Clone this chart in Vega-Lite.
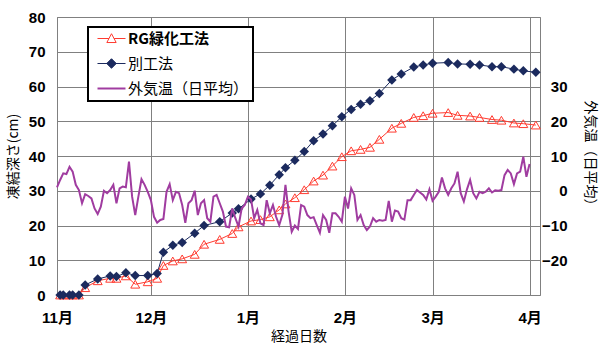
{
  "$schema": "https://vega.github.io/schema/vega-lite/v6.json",
  "width": 483,
  "height": 278,
  "autosize": {"type": "none"},
  "padding": {"left": 57, "top": 17, "right": 60, "bottom": 64},
  "background": "white",
  "config": {
    "font": "Liberation Sans, Noto Sans CJK JP",
    "view": {"stroke": "#808080", "strokeWidth": 1},
    "axis": {
      "gridColor": "#808080", "gridOpacity": 1, "gridWidth": 1,
      "domain": false, "ticks": false,
      "labelColor": "black", "titleColor": "black",
      "labelFont": "Liberation Sans, Noto Sans CJK JP",
      "titleFont": "Noto Sans CJK JP",
      "labelFontWeight": "bold", "labelFontSize": 15,
      "titleFontSize": 14, "titleFontWeight": "normal"
    }
  },
  "datasets": {
    "depth": [
      {"date": "2010-11-02", "RG": 0, "betsu": 0},
      {"date": "2010-11-03", "RG": 0, "betsu": 0},
      {"date": "2010-11-05", "RG": 0, "betsu": 0},
      {"date": "2010-11-06", "RG": 0, "betsu": 0},
      {"date": "2010-11-08", "RG": 0, "betsu": 0},
      {"date": "2010-11-10", "RG": 2.1, "betsu": 2.9},
      {"date": "2010-11-14", "RG": 4.1, "betsu": 4.6},
      {"date": "2010-11-18", "RG": 4.8, "betsu": 5.5},
      {"date": "2010-11-20", "RG": 4.8, "betsu": 5.3},
      {"date": "2010-11-23", "RG": 5.5, "betsu": 6.4},
      {"date": "2010-11-26", "RG": 3.1, "betsu": 5.6},
      {"date": "2010-11-30", "RG": 3.8, "betsu": 5.6},
      {"date": "2010-12-03", "RG": 4.8, "betsu": 6.2},
      {"date": "2010-12-05", "RG": 8.5, "betsu": 12.3},
      {"date": "2010-12-08", "RG": 9.8, "betsu": 14.3},
      {"date": "2010-12-11", "RG": 10.4, "betsu": 15.1},
      {"date": "2010-12-15", "RG": 11.7, "betsu": 17.8},
      {"date": "2010-12-18", "RG": 14.6, "betsu": 20.0},
      {"date": "2010-12-23", "RG": 16.0, "betsu": 21.1},
      {"date": "2010-12-27", "RG": 17.7, "betsu": 23.6},
      {"date": "2010-12-29", "RG": 19.6, "betsu": 24.8},
      {"date": "2011-01-02", "RG": 21.3, "betsu": 27.6},
      {"date": "2011-01-05", "RG": 21.7, "betsu": 29.1},
      {"date": "2011-01-08", "RG": 22.5, "betsu": 31.6},
      {"date": "2011-01-11", "RG": 24.5, "betsu": 34.6},
      {"date": "2011-01-13", "RG": 26.2, "betsu": 36.6},
      {"date": "2011-01-16", "RG": 28.0, "betsu": 38.8},
      {"date": "2011-01-19", "RG": 30.3, "betsu": 41.3},
      {"date": "2011-01-22", "RG": 32.8, "betsu": 44.4},
      {"date": "2011-01-25", "RG": 34.5, "betsu": 46.3},
      {"date": "2011-01-28", "RG": 37.1, "betsu": 48.7},
      {"date": "2011-01-31", "RG": 39.8, "betsu": 51.3},
      {"date": "2011-02-03", "RG": 41.5, "betsu": 53.4},
      {"date": "2011-02-06", "RG": 41.9, "betsu": 54.9},
      {"date": "2011-02-09", "RG": 42.5, "betsu": 55.9},
      {"date": "2011-02-12", "RG": 44.8, "betsu": 58.0},
      {"date": "2011-02-16", "RG": 48.0, "betsu": 61.9},
      {"date": "2011-02-19", "RG": 49.4, "betsu": 63.6},
      {"date": "2011-02-23", "RG": 51.1, "betsu": 65.6},
      {"date": "2011-02-26", "RG": 51.6, "betsu": 66.2},
      {"date": "2011-03-01", "RG": 52.3, "betsu": 66.7},
      {"date": "2011-03-06", "RG": 52.5, "betsu": 66.9},
      {"date": "2011-03-09", "RG": 51.7, "betsu": 66.5},
      {"date": "2011-03-13", "RG": 51.5, "betsu": 66.4},
      {"date": "2011-03-16", "RG": 51.1, "betsu": 66.2},
      {"date": "2011-03-20", "RG": 50.5, "betsu": 65.7},
      {"date": "2011-03-23", "RG": 50.3, "betsu": 65.7},
      {"date": "2011-03-27", "RG": 49.5, "betsu": 65.0},
      {"date": "2011-03-30", "RG": 49.3, "betsu": 64.5},
      {"date": "2011-04-03", "RG": 48.9, "betsu": 64.1}
    ],
    "temp": [
      {"date": "2010-11-01", "temp": 1.0}, {"date": "2010-11-02", "temp": 3.1}, {"date": "2010-11-03", "temp": 5.0}, {"date": "2010-11-04", "temp": 4.8}, {"date": "2010-11-05", "temp": 6.9},
      {"date": "2010-11-06", "temp": 5.5}, {"date": "2010-11-07", "temp": 1.7}, {"date": "2010-11-08", "temp": 0.2}, {"date": "2010-11-09", "temp": -3.6}, {"date": "2010-11-10", "temp": -1.0},
      {"date": "2010-11-11", "temp": -1.5}, {"date": "2010-11-12", "temp": -2.2}, {"date": "2010-11-13", "temp": -5.1}, {"date": "2010-11-14", "temp": -6.7}, {"date": "2010-11-15", "temp": -4.6},
      {"date": "2010-11-16", "temp": 0.0}, {"date": "2010-11-17", "temp": -0.7}, {"date": "2010-11-18", "temp": 0.2}, {"date": "2010-11-19", "temp": 1.7}, {"date": "2010-11-20", "temp": -3.6},
      {"date": "2010-11-21", "temp": 0.7}, {"date": "2010-11-22", "temp": 1.2}, {"date": "2010-11-23", "temp": 1.0}, {"date": "2010-11-24", "temp": 8.4}, {"date": "2010-11-25", "temp": -1.7},
      {"date": "2010-11-26", "temp": -7.0}, {"date": "2010-11-27", "temp": -1.7}, {"date": "2010-11-28", "temp": 3.3}, {"date": "2010-11-29", "temp": 1.7}, {"date": "2010-11-30", "temp": -0.3},
      {"date": "2010-12-01", "temp": -2.7}, {"date": "2010-12-02", "temp": -7.5}, {"date": "2010-12-03", "temp": -9.2}, {"date": "2010-12-04", "temp": -8.4}, {"date": "2010-12-05", "temp": -8.1},
      {"date": "2010-12-06", "temp": -0.3}, {"date": "2010-12-07", "temp": 1.9}, {"date": "2010-12-08", "temp": -2.7}, {"date": "2010-12-09", "temp": -0.3}, {"date": "2010-12-10", "temp": -0.7},
      {"date": "2010-12-11", "temp": -4.1}, {"date": "2010-12-12", "temp": -9.2}, {"date": "2010-12-13", "temp": -3.6}, {"date": "2010-12-14", "temp": -2.7}, {"date": "2010-12-15", "temp": 0.0},
      {"date": "2010-12-16", "temp": -7.0}, {"date": "2010-12-17", "temp": -3.6}, {"date": "2010-12-18", "temp": -2.7}, {"date": "2010-12-19", "temp": -7.9}, {"date": "2010-12-20", "temp": -8.9},
      {"date": "2010-12-21", "temp": -1.7}, {"date": "2010-12-22", "temp": -1.2}, {"date": "2010-12-23", "temp": -3.6}, {"date": "2010-12-24", "temp": -6.0}, {"date": "2010-12-25", "temp": -10.3},
      {"date": "2010-12-26", "temp": -10.5}, {"date": "2010-12-27", "temp": -5.1}, {"date": "2010-12-28", "temp": -7.9}, {"date": "2010-12-29", "temp": -10.3}, {"date": "2010-12-30", "temp": -5.1},
      {"date": "2010-12-31", "temp": -4.1},
      {"date": "2011-01-01", "temp": -1.7}, {"date": "2011-01-02", "temp": -2.5}, {"date": "2011-01-03", "temp": -7.9}, {"date": "2011-01-04", "temp": -5.5}, {"date": "2011-01-05", "temp": -9.4},
      {"date": "2011-01-06", "temp": -9.9}, {"date": "2011-01-07", "temp": -2.7}, {"date": "2011-01-08", "temp": -6.5}, {"date": "2011-01-09", "temp": -4.1}, {"date": "2011-01-10", "temp": -7.5},
      {"date": "2011-01-11", "temp": -9.9}, {"date": "2011-01-12", "temp": -7.0}, {"date": "2011-01-13", "temp": 1.7}, {"date": "2011-01-14", "temp": -6.0}, {"date": "2011-01-15", "temp": -11.8},
      {"date": "2011-01-16", "temp": -10.0}, {"date": "2011-01-17", "temp": -11.0}, {"date": "2011-01-18", "temp": -4.1}, {"date": "2011-01-19", "temp": -4.6}, {"date": "2011-01-20", "temp": -7.0},
      {"date": "2011-01-21", "temp": -7.9}, {"date": "2011-01-22", "temp": -7.6}, {"date": "2011-01-23", "temp": -9.9}, {"date": "2011-01-24", "temp": -12.1}, {"date": "2011-01-25", "temp": -7.0},
      {"date": "2011-01-26", "temp": -8.4}, {"date": "2011-01-27", "temp": -12.1}, {"date": "2011-01-28", "temp": -6.5}, {"date": "2011-01-29", "temp": -6.5}, {"date": "2011-01-30", "temp": -7.5},
      {"date": "2011-01-31", "temp": -8.9},
      {"date": "2011-02-01", "temp": -1.7}, {"date": "2011-02-02", "temp": -5.1}, {"date": "2011-02-03", "temp": 0.7}, {"date": "2011-02-04", "temp": -1.2}, {"date": "2011-02-05", "temp": -8.4},
      {"date": "2011-02-06", "temp": -7.0}, {"date": "2011-02-07", "temp": -9.9}, {"date": "2011-02-08", "temp": -11.3}, {"date": "2011-02-09", "temp": -10.3}, {"date": "2011-02-10", "temp": -7.9},
      {"date": "2011-02-11", "temp": -8.9}, {"date": "2011-02-12", "temp": -8.4}, {"date": "2011-02-13", "temp": -8.6}, {"date": "2011-02-14", "temp": -8.4}, {"date": "2011-02-15", "temp": -2.9},
      {"date": "2011-02-16", "temp": -8.9}, {"date": "2011-02-17", "temp": -5.7}, {"date": "2011-02-18", "temp": -6.0}, {"date": "2011-02-19", "temp": -7.9}, {"date": "2011-02-20", "temp": -8.3},
      {"date": "2011-02-21", "temp": -2.7}, {"date": "2011-02-22", "temp": -2.7}, {"date": "2011-02-23", "temp": -1.2}, {"date": "2011-02-24", "temp": 0.2}, {"date": "2011-02-25", "temp": -0.5},
      {"date": "2011-02-26", "temp": -1.2}, {"date": "2011-02-27", "temp": -2.5}, {"date": "2011-02-28", "temp": 0.4},
      {"date": "2011-03-01", "temp": -2.9}, {"date": "2011-03-02", "temp": -1.7}, {"date": "2011-03-03", "temp": -0.3}, {"date": "2011-03-04", "temp": 3.8}, {"date": "2011-03-05", "temp": 0.7},
      {"date": "2011-03-06", "temp": -1.2}, {"date": "2011-03-07", "temp": 0.7}, {"date": "2011-03-08", "temp": 2.1}, {"date": "2011-03-09", "temp": 5.5}, {"date": "2011-03-10", "temp": -0.7},
      {"date": "2011-03-11", "temp": -3.1}, {"date": "2011-03-12", "temp": 0.4}, {"date": "2011-03-13", "temp": 3.1}, {"date": "2011-03-14", "temp": -0.7}, {"date": "2011-03-15", "temp": -2.2},
      {"date": "2011-03-16", "temp": -0.3}, {"date": "2011-03-17", "temp": -0.7}, {"date": "2011-03-18", "temp": -0.3}, {"date": "2011-03-19", "temp": 0.7}, {"date": "2011-03-20", "temp": -0.5},
      {"date": "2011-03-21", "temp": 0.1}, {"date": "2011-03-22", "temp": 0.0}, {"date": "2011-03-23", "temp": 0.2}, {"date": "2011-03-24", "temp": 4.5}, {"date": "2011-03-25", "temp": 6.0},
      {"date": "2011-03-26", "temp": 5.0}, {"date": "2011-03-27", "temp": 1.9}, {"date": "2011-03-28", "temp": 5.0}, {"date": "2011-03-29", "temp": 5.5}, {"date": "2011-03-30", "temp": 9.8},
      {"date": "2011-03-31", "temp": 4.0},
      {"date": "2011-04-01", "temp": 7.7}
    ]
  },
  "encoding": {
    "x": {
      "field": "date", "type": "temporal", "title": "経過日数",
      "scale": {"type": "utc", "domain": [{"year": 2010, "month": 11, "date": 1, "utc": true}, {"year": 2011, "month": 4, "date": 4, "hours": 8, "utc": true}]},
      "axis": {
        "values": [
          {"year": 2010, "month": 11, "date": 1, "utc": true},
          {"year": 2010, "month": 12, "date": 1, "utc": true},
          {"year": 2011, "month": 1, "date": 1, "utc": true},
          {"year": 2011, "month": 2, "date": 1, "utc": true},
          {"year": 2011, "month": 3, "date": 1, "utc": true},
          {"year": 2011, "month": 4, "date": 1, "utc": true}
        ],
        "labelExpr": "utcFormat(datum.value, '%m') * 1 + '月'",
        "grid": true,
        "labelPadding": 15, "titlePadding": 4, "labelFlush": false, "labelOverlap": false
      }
    }
  },
  "layer": [
    {
      "data": {"name": "depth"},
      "layer": [
        {
          "mark": {"type": "line", "strokeWidth": 1},
          "encoding": {
            "y": {"field": "RG", "type": "quantitative", "title": "凍結深さ(cm)",
              "scale": {"domain": [0, 80], "nice": false},
              "axis": {"values": [0, 10, 20, 30, 40, 50, 60, 70, 80], "grid": true, "labelPadding": 12, "titlePadding": 8, "labelOverlap": false}},
            "color": {
              "datum": "RG緑化工法", "type": "nominal",
              "scale": {"domain": ["RG緑化工法", "別工法", "外気温（日平均）"], "range": ["#FF3B30", "#1B2A5E", "#A03CA0"]},
              "legend": {
                "orient": "none", "legendX": 31, "legendY": 10, "direction": "vertical", "title": null,
                "fillColor": "white", "strokeColor": "black", "padding": 4,
                "labelFont": "Noto Sans CJK JP", "labelFontSize": 15, "labelColor": "black",
                "symbolSize": 450, "rowPadding": 9, "labelOffset": 9, "symbolOffset": 12,
                "encode": {
                  "legend": {"update": {"strokeWidth": {"value": 2}}},
                  "symbols": {"update": {
                    "shape": {"signal": "datum.value === 'RG緑化工法' ? 'M-1.32,0H-0.24M0.24,0H1.32M0,-0.45L0.44,0.38L-0.44,0.38Z' : datum.value === '別工法' ? 'M-1.32,0H1.32M0,-0.45L0.45,0L0,0.45L-0.45,0Z' : 'M-1.32,0H1.32'"},
                    "fill": {"signal": "datum.value === '別工法' ? '#1B2A5E' : 'transparent'"},
                    "stroke": {"signal": "datum.value === 'RG緑化工法' ? '#FF3B30' : datum.value === '別工法' ? '#1B2A5E' : '#A03CA0'"},
                    "strokeWidth": {"signal": "datum.value === '外気温（日平均）' ? 2 : 1"},
                    "opacity": {"value": 1}
                  }},
                  "labels": {"update": {"fontWeight": {"signal": "datum.value === 'RG緑化工法' ? 'bold' : 'normal'"}}}
                }
              }
            }
          }
        },
        {
          "mark": {"type": "line", "strokeWidth": 1},
          "encoding": {
            "y": {"field": "betsu", "type": "quantitative", "title": "凍結深さ(cm)",
              "axis": {"values": [0, 10, 20, 30, 40, 50, 60, 70, 80], "grid": true, "labelPadding": 12, "titlePadding": 8, "labelOverlap": false}},
            "color": {"datum": "別工法", "type": "nominal"}
          }
        },
        {
          "mark": {"type": "point", "shape": "triangle-up", "filled": false, "stroke": "#FF3B30", "fill": "white", "fillOpacity": 0, "size": 80, "strokeWidth": 1, "opacity": 1},
          "encoding": {"y": {"field": "RG", "type": "quantitative", "title": "凍結深さ(cm)",
            "axis": {"values": [0, 10, 20, 30, 40, 50, 60, 70, 80], "grid": true, "labelPadding": 12, "titlePadding": 8, "labelOverlap": false}}}
        },
        {
          "mark": {"type": "point", "shape": "diamond", "filled": true, "color": "#1B2A5E", "size": 90, "opacity": 1},
          "encoding": {"y": {"field": "betsu", "type": "quantitative", "title": "凍結深さ(cm)",
            "axis": {"values": [0, 10, 20, 30, 40, 50, 60, 70, 80], "grid": true, "labelPadding": 12, "titlePadding": 8, "labelOverlap": false}}}
        }
      ]
    },
    {
      "data": {"name": "temp"},
      "mark": {"type": "line", "strokeWidth": 2},
      "encoding": {
        "y": {"field": "temp", "type": "quantitative", "title": "外気温（日平均）",
          "scale": {"domain": [-30, 50], "nice": false},
          "axis": {"orient": "right", "values": [-20, -10, 0, 10, 20, 30], "grid": false, "labelAlign": "right", "labelPadding": 27, "titlePadding": 15}},
        "color": {"datum": "外気温（日平均）", "type": "nominal"}
      }
    }
  ],
  "resolve": {"scale": {"y": "independent"}}
}
